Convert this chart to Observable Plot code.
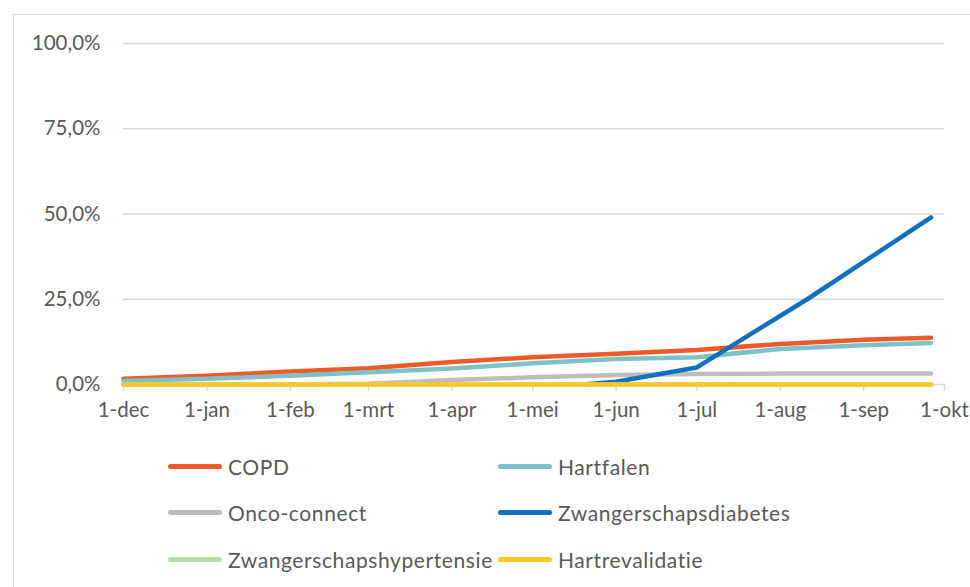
<!DOCTYPE html>
<html>
<head>
<meta charset="utf-8">
<script src="https://cdn.jsdelivr.net/npm/d3@7"></script>
<script src="https://cdn.jsdelivr.net/npm/@observablehq/plot@0.6"></script>
<style>
  html, body { margin: 0; padding: 0; background: #fff; }
  body { width: 970px; height: 587px; position: relative; overflow: hidden; font-family: Lato, "Open Sans", sans-serif; color: #595959; }
  #frame { position: absolute; left: 13px; top: 14px; right: -2px; bottom: -2px; border-left: 1.5px solid #d9d9d9; border-top: 1.5px solid #d9d9d9; }
  #chart { position: absolute; left: 0; top: 0; }
  #legend { position: absolute; left: 168px; top: 443px; display: grid; grid-template-columns: 330px 330px; grid-auto-rows: 46.5px; font-size: 21px; letter-spacing: 0.6px; }
  .item { display: flex; align-items: center; height: 46.5px; }
  .sw { width: 54px; height: 5px; border-radius: 3px; margin-right: 6px; flex: none; }
</style>
</head>
<body>
<div id="frame"></div>
<div id="chart"></div>
<div id="legend"></div>
<script>
// ---- data ----
const dates = ["2019-12-01","2020-01-01","2020-02-01","2020-03-01","2020-04-01","2020-05-01","2020-05-20","2020-06-01","2020-07-01","2020-08-01","2020-08-11","2020-09-01","2020-09-26"];
const seriesNames = ["COPD","Hartfalen","Onco-connect","Zwangerschapsdiabetes","Zwangerschapshypertensie","Hartrevalidatie"];
const seriesColors = ["#ec5a2a","#7cc2c6","#bdbdbd","#1370bf","#b7dca8","#f9c823"];
const copd      = [1.7, 2.6, 3.8, 4.8, 6.6, 8.0, null, 9.0, 10.1, 11.9, null, 13.1, 13.7];
const hartfalen = [1.0, 1.7, 2.6, 3.6, 4.7, 6.2, null, 7.5, 8.0, 10.4, null, 11.5, 12.2];
const onco      = [0.0, 0.0, 0.0, 0.2, 1.3, 2.1, null, 2.8, 3.1, 3.2, null, 3.2, 3.2];
const zwDiabetes= [null, null, null, null, null, null, 0.0, 0.8, 5.0, null, 25.0, null, 49.0];
const zwHyper   = [0.0, 0.0, 0.0, 0.0, 0.0, 0.0, null, 0.0, 0.0, 0.0, null, 0.0, 0.0];
const hartreval = [0.0, 0.0, 0.0, 0.0, 0.0, 0.0, null, 0.0, 0.0, 0.0, null, 0.0, 0.0];
const xTickDates  = ["2019-12-01","2020-01-01","2020-02-01","2020-03-01","2020-04-01","2020-05-01","2020-06-01","2020-07-01","2020-08-01","2020-09-01","2020-10-01"];
const xTickLabels = ["1-dec","1-jan","1-feb","1-mrt","1-apr","1-mei","1-jun","1-jul","1-aug","1-sep","1-okt"];
const yTicks = [0, 25, 50, 75, 100];

// ---- build table ----
const seriesValues = [copd, hartfalen, onco, zwDiabetes, zwHyper, hartreval];
const table = [];
seriesNames.forEach((name, i) => {
  seriesValues[i].forEach((v, j) => {
    if (v !== null) table.push({series: name, date: new Date(dates[j]), value: v});
  });
});
const tickDates = xTickDates.map(d => new Date(d));
const labelOf = new Map(tickDates.map((d, i) => [+d, xTickLabels[i]]));
const fmtY = d => d.toFixed(1).replace(".", ",") + "%";

const chart = Plot.plot({
  width: 970,
  height: 430,
  marginLeft: 123,
  marginRight: 26,
  marginTop: 43,
  marginBottom: 46,
  style: {fontFamily: "Lato, 'Open Sans', sans-serif", fontSize: "20.5px", color: "#595959", background: "transparent", overflow: "visible"},
  x: {type: "utc", domain: [tickDates[0], tickDates[tickDates.length - 1]]},
  y: {domain: [0, 100]},
  color: {domain: seriesNames, range: seriesColors},
  marks: [
    Plot.gridY(yTicks.filter(d => d > 0), {stroke: "#d9d9d9", strokeOpacity: 1, strokeWidth: 1.5}),
    Plot.axisY(yTicks, {tickSize: 0, tickPadding: 23, tickFormat: fmtY, fill: "#595959", label: null}),
    Plot.ruleY([0], {stroke: "#d9d9d9", strokeWidth: 1.5}),
    Plot.axisX(tickDates, {tickSize: 7, tickPadding: 11, stroke: "#d9d9d9", strokeOpacity: 1, strokeWidth: 1.5, fill: "#595959", tickFormat: d => labelOf.get(+d), label: null}),
    Plot.line(table, {x: "date", y: "value", z: "series", stroke: "series", strokeWidth: 4.5, strokeLinejoin: "round", strokeLinecap: "round"})
  ]
});
document.getElementById("chart").appendChild(chart);

// ---- legend ----
const legend = document.getElementById("legend");
seriesNames.forEach((name, i) => {
  const item = document.createElement("div");
  item.className = "item";
  const sw = document.createElement("div");
  sw.className = "sw";
  sw.style.background = seriesColors[i];
  const t = document.createElement("span");
  t.textContent = name;
  item.appendChild(sw);
  item.appendChild(t);
  legend.appendChild(item);
});
</script>
</body>
</html>
